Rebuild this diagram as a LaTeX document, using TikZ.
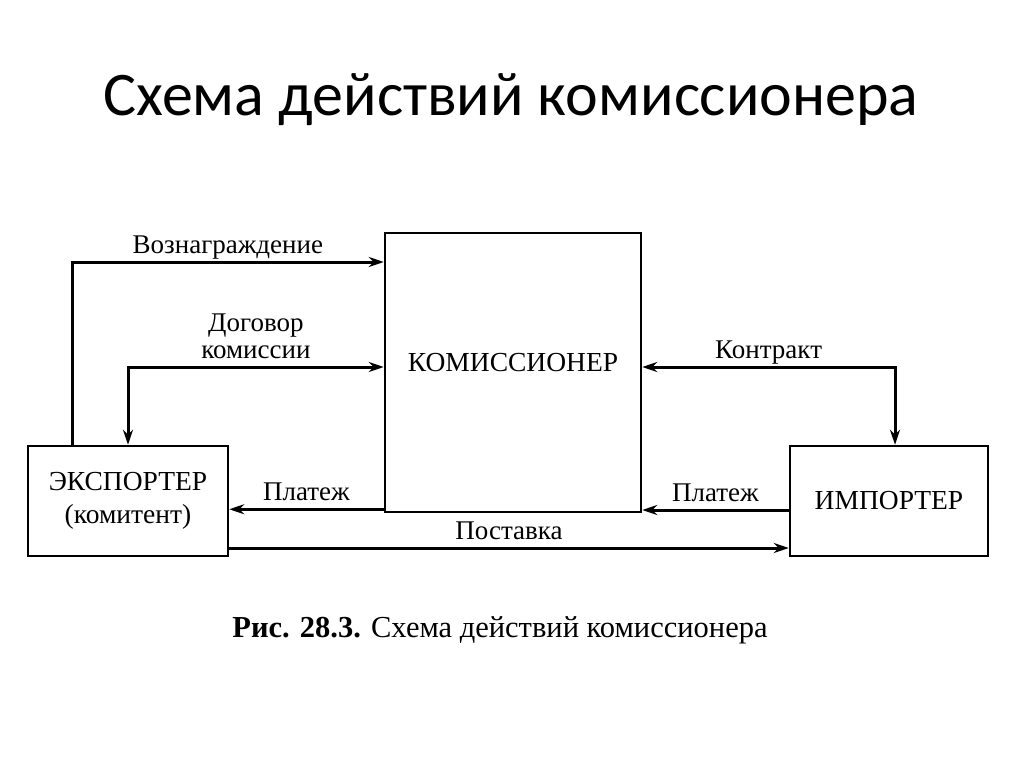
\documentclass[tikz,border=0pt]{standalone}
\usepackage{fontspec}
\setmainfont{Liberation Serif}
\newfontfamily\titlefont{Carlito}
\usepackage{tikz}
\usetikzlibrary{arrows.meta, positioning}
\tikzset{>={Stealth[length=15pt,width=10pt]}}
\tikzset{
    party/.style={draw, line width=2.5pt, align=center, font=\fontsize{27.5}{33}\selectfont},
    flow/.style={line width=3pt},
    lbl/.style={font=\fontsize{27}{27}\selectfont, align=center, inner sep=3pt, text depth=4pt}
}

\begin{document}
\begin{tikzpicture}[x=1pt,y=-1pt]
            \useasboundingbox (0,0) rectangle (1024,768);
            \node[font=\titlefont\fontsize{62}{70}\selectfont] (title) at (511,100) {Схема действий комиссионера};
            \node[party, minimum width=256pt, minimum height=279pt] (kom) at (513,372.5) {};
            \node[font=\fontsize{27.5}{34}\selectfont] (komtext) at (513,363) {КОМИССИОНЕР};
            \node[party, minimum width=200pt, minimum height=110pt] (exp) at (128,501) {ЭКСПОРТЕР\\(комитент)};
            \node[party, minimum width=198pt, minimum height=110pt] (imp) at (889,501) {ИМПОРТЕР};
            \coordinate (fee) at (72,262);
            \coordinate (deal) at (128,367);
            \coordinate (contract) at (895,367);
            \draw[->,flow] (exp.north -| fee) -- (fee) -- (fee -| kom.west) node[lbl, midway, above] {Вознаграждение};
            \draw[<->,flow] (exp.north -| deal) -- (deal) -- (deal -| kom.west) node[lbl, midway, above] {Договор\\комиссии};
            \draw[<->,flow] (imp.north -| contract) -- (contract) -- (contract -| kom.east) node[lbl, midway, above] {Контракт};
            \draw[->,flow] ([yshift=4pt]kom.south west) coordinate (pay1) -- (pay1 -| exp.east) node[lbl, midway, above] {Платеж};
            \draw[->,flow] ([yshift=-9pt]imp.west) coordinate (pay2) -- (pay2 -| kom.east) node[lbl, midway, above] {Платеж};
            \draw[->,flow] ([yshift=-47pt]exp.east) coordinate (ship) -- (ship -| imp.west) node[lbl, midway, above] {Поставка};
            \node[font=\fontsize{30.5}{34}\selectfont] (caption) at (500,630) {\textbf{Рис. 28.3.} Схема действий комиссионера};
        \end{tikzpicture}
\end{document}
